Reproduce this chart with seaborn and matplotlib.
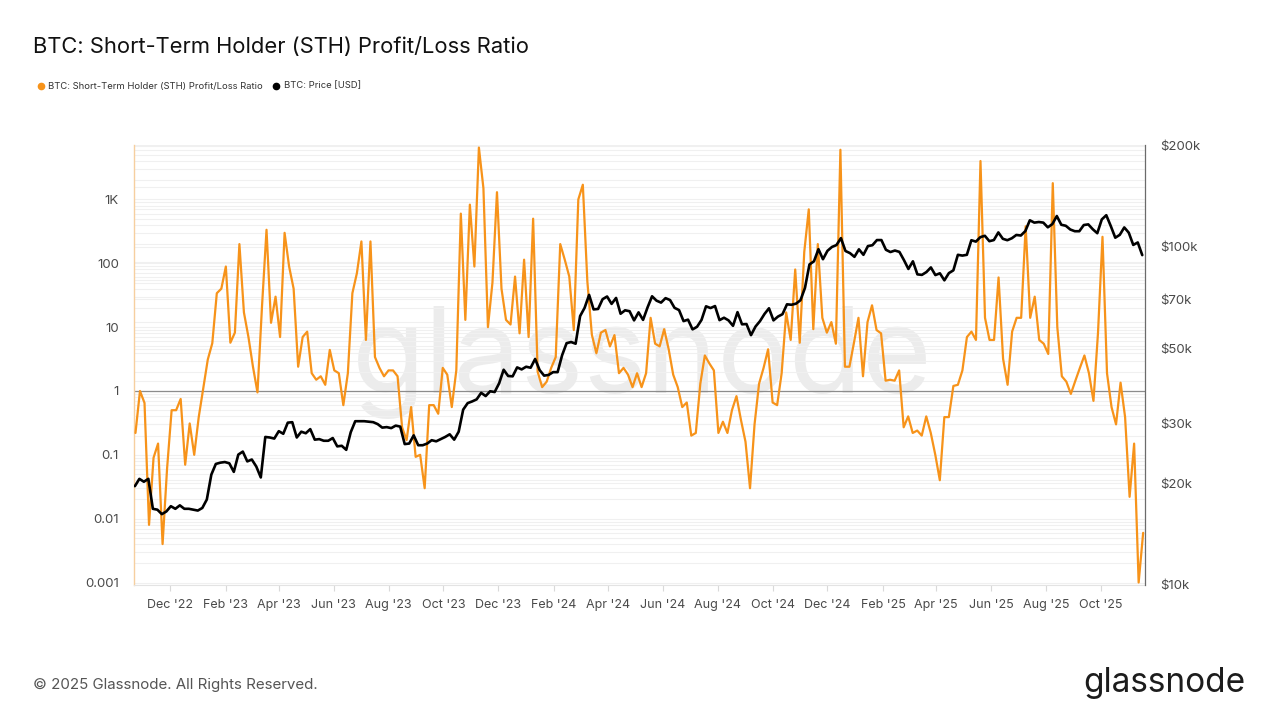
import numpy as np
import pandas as pd
import matplotlib
matplotlib.use("Agg")
import matplotlib.pyplot as plt
import matplotlib.dates as mdates
from matplotlib.ticker import LogLocator, NullFormatter, NullLocator
from matplotlib.lines import Line2D
import seaborn as sns

# ---------------- data ----------------
sth_start = "2022-10-23 16:00"
sth_end = "2025-11-17"
sth_ratio = [
    0.22, 1.0, 0.65, 0.008, 0.09, 0.15, 0.004, 0.062, 0.5, 0.5,
    0.75, 0.07, 0.31, 0.1, 0.39, 1.1, 3.1, 5.6, 34, 40,
    89, 5.7, 8.2, 200, 17, 7, 2.4, 0.95, 21, 335,
    11.7, 30, 7, 300, 89, 40, 2.4, 7, 8.5, 1.9,
    1.5, 1.7, 1.25, 4.4, 2.1, 1.9, 0.6, 1.9, 34, 70,
    220, 6.3, 220, 3.4, 2.3, 1.7, 2.1, 2.1, 1.7, 0.27,
    0.17, 0.56, 0.093, 0.1, 0.03, 0.6, 0.6, 0.44, 2.3, 1.8,
    0.56, 2.1, 600, 13, 830, 89, 6500, 1500, 10, 50,
    1300, 40, 13, 11, 62, 8, 114, 7, 500, 2.0,
    1.15, 1.4, 2.3, 3.4, 200, 114, 62, 9, 1000, 1700,
    52, 7.6, 3.9, 8.2, 9, 5, 7.5, 1.9, 2.3, 1.8,
    1.15, 1.9, 1.15, 1.9, 14, 5.5, 5, 9.3, 4.5, 1.8,
    1.15, 0.56, 0.66, 0.2, 0.22, 1.3, 3.6, 2.7, 2.1, 0.22,
    0.33, 0.22, 0.5, 0.83, 0.35, 0.16, 0.03, 0.3, 1.3, 2.3,
    4.5, 0.66, 0.6, 1.9, 17, 6.3, 80, 5.7, 150, 700,
    9.3, 200, 14, 8.2, 12, 5.5, 6000, 2.4, 2.4, 5.7,
    14, 1.7, 12, 22, 9, 8, 1.45, 1.5, 1.45, 2.1,
    0.27, 0.4, 0.22, 0.24, 0.2, 0.4, 0.22, 0.1, 0.04, 0.39,
    0.39, 1.2, 1.25, 2.1, 7, 8.5, 6.3, 4000, 14, 6.3,
    6.3, 60, 3.2, 1.25, 8.5, 14, 14, 380, 14, 30,
    6.3, 5.5, 3.8, 1800, 10, 1.7, 1.4, 0.9, 1.45, 2.3,
    3.6, 1.9, 0.7, 8, 260, 1.9, 0.56, 0.3, 1.35, 0.39,
    0.022, 0.15, 0.001, 0.006,
]

price_start = "2022-10-23"
price_step = "5D"
btc_price_k = [
    19.6, 20.6, 20.2, 20.6, 16.8, 16.7, 16.2, 16.5, 17.1, 16.8,
    17.2, 16.8, 16.8, 16.7, 16.6, 16.9, 17.9, 21.2, 22.8, 23.0,
    23.1, 22.9, 21.6, 24.3, 24.8, 23.2, 23.5, 22.4, 20.8, 27.4,
    27.3, 27.1, 28.5, 28.0, 30.2, 30.3, 27.3, 28.4, 28.1, 28.9,
    26.9, 27.0, 26.7, 26.7, 27.2, 25.7, 25.8, 25.1, 28.3, 30.5,
    30.5, 30.5, 30.4, 30.3, 29.9, 29.2, 29.3, 29.1, 29.6, 29.4,
    26.1, 26.2, 27.7, 25.9, 25.9, 26.2, 26.8, 26.6, 27.0, 27.4,
    27.9, 26.9, 28.4, 33.0, 34.5, 34.9, 35.4, 37.0, 36.2, 37.4,
    37.2, 39.5, 43.3, 41.5, 41.4, 44.0, 43.4, 44.2, 43.9, 46.6,
    43.2, 41.6, 41.8, 42.6, 42.6, 47.8, 51.9, 52.3, 51.7, 62.4,
    66.0, 72.1, 65.3, 65.5, 70.0, 71.3, 67.8, 70.6, 63.4, 64.9,
    64.5, 60.6, 64.0, 60.8, 66.2, 71.4, 69.3, 68.4, 70.5, 69.6,
    66.0, 65.0, 60.3, 60.9, 57.0, 58.0, 60.8, 66.7, 65.9, 66.8,
    60.7, 61.7, 60.6, 58.4, 64.1, 59.0, 59.1, 54.8, 58.1, 60.3,
    63.3, 65.8, 60.6, 62.2, 63.2, 67.6, 67.4, 67.9, 69.5, 75.6,
    88.7, 90.6, 98.4, 91.9, 97.3, 99.9, 101.2, 106.1, 97.2, 95.8,
    93.4, 98.3, 94.7, 100.5, 101.1, 104.7, 104.7, 98.0, 96.5, 97.5,
    96.6, 91.4, 86.0, 90.6, 82.9, 82.6, 84.2, 86.9, 82.5, 83.5,
    79.6, 83.6, 85.2, 94.7, 94.2, 94.7, 104.6, 103.6, 106.8, 107.8,
    103.9, 104.7, 110.3, 105.6, 104.6, 106.0, 108.4, 108.0, 111.3, 119.8,
    117.9, 118.4, 117.9, 114.2, 116.7, 123.3, 116.2, 115.4, 112.5, 111.2,
    111.2, 116.0, 116.5, 112.7, 109.7, 120.5, 124.0, 115.2, 106.4, 108.5,
    114.1, 110.1, 101.3, 103.0, 94.5,
]

left_ticks = [0.001, 0.01, 0.1, 1, 10, 100, 1000]
left_labels = ["0.001", "0.01", "0.1", "1", "10", "100", "1K"]
right_ticks = [10000, 20000, 30000, 50000, 70000, 100000, 200000]
right_labels = ["$10k", "$20k", "$30k", "$50k", "$70k", "$100k", "$200k"]

title = "BTC: Short-Term Holder (STH) Profit/Loss Ratio"
legend_sth = "BTC: Short-Term Holder (STH) Profit/Loss Ratio"
legend_price = "BTC: Price [USD]"
footer = "\u00a9 2025 Glassnode. All Rights Reserved."

# ---------------- style ----------------
sns.set_theme(style="white")
plt.rcParams["font.family"] = ["Inter", "DejaVu Sans"]

ORANGE = "#F7931A"
TICKC = "#4a4a4a"
GRIDC = "#f0f0f0"

df_sth = pd.DataFrame({
    "date": pd.date_range(sth_start, sth_end, periods=len(sth_ratio)),
    "ratio": sth_ratio,
})
df_px = pd.DataFrame({
    "date": pd.date_range(price_start, periods=len(btc_price_k), freq=price_step),
    "price": np.array(btc_price_k) * 1000.0,
})

fig = plt.figure(figsize=(12.8, 7.2), dpi=100)
ax = fig.add_axes([0.1049, 0.1875, 0.7896, 0.6111])
ax2 = ax.twinx()

ax.set_yscale("log")
ax2.set_yscale("log")
left_lo, left_hi = 10 ** (-3.039), 10 ** 3.853
right_lo, right_hi = 1e4, 2e5
ax.set_ylim(left_lo, left_hi)
ax2.set_ylim(right_lo, right_hi)

# watermark
ax.text(0.503, 0.437, "glassnode", transform=ax.transAxes, ha="center",
        va="baseline", fontsize=86, color="#ececec", zorder=0.5)

# gridlines (left minor/major)
ax.yaxis.set_minor_locator(LogLocator(base=10, subs=np.arange(2, 10)))
ax.yaxis.set_minor_formatter(NullFormatter())
ax.grid(which="both", axis="y", color=GRIDC, linewidth=0.8, zorder=0)
ax.grid(which="both", axis="x", visible=False)
# gridlines belonging to the right (price) scale, drawn underneath the data
ll, lh = np.log10(left_lo), np.log10(left_hi)
rl, rh = np.log10(right_lo), np.log10(right_hi)
for v in list(range(10000, 100001, 10000)) + [150000, 200000]:
    frac = (np.log10(v) - rl) / (rh - rl)
    ax.axhline(10 ** (ll + frac * (lh - ll)), color=GRIDC, linewidth=0.8, zorder=0.4)

ax.axhline(1, color="#8c8c8c", linewidth=0.9, zorder=1)

sns.lineplot(data=df_sth, x="date", y="ratio", ax=ax, color=ORANGE,
             linewidth=1.6, estimator=None, zorder=3)
sns.lineplot(data=df_px, x="date", y="price", ax=ax2, color="black",
             linewidth=1.9, estimator=None, zorder=3)

ax.set_xlim(pd.Timestamp("2022-10-22 08:00"), pd.Timestamp("2025-11-19"))
ax.xaxis.set_major_locator(mdates.MonthLocator(bymonth=[2, 4, 6, 8, 10, 12]))
ax.xaxis.set_major_formatter(mdates.DateFormatter("%b '%y"))

ax.set_yticks(left_ticks, left_labels)
ax.yaxis.set_minor_formatter(NullFormatter())
ax2.set_yticks(right_ticks, right_labels)
ax2.yaxis.set_minor_locator(NullLocator())
ax2.yaxis.set_minor_formatter(NullFormatter())
ax2.grid(False)

ax.tick_params(axis="x", which="major", length=4, width=0.8, color="#d9d9d9",
               labelsize=9, labelcolor=TICKC, pad=6, direction="out", bottom=True)
ax.tick_params(axis="y", which="both", length=0, labelsize=9.5, labelcolor=TICKC, pad=11)
ax2.tick_params(axis="y", which="both", length=0, labelsize=9.5, labelcolor=TICKC, pad=11)

for a in (ax, ax2):
    a.set_xlabel("")
    a.set_ylabel("")
    a.spines["top"].set_visible(False)
ax.spines["right"].set_visible(False)
ax.spines["left"].set_color("#f6cf9f")
ax.spines["left"].set_linewidth(1.0)
ax.spines["bottom"].set_color("#e3e3e3")
ax.spines["bottom"].set_linewidth(0.8)
ax2.spines["left"].set_visible(False)
ax2.spines["bottom"].set_visible(False)
ax2.spines["right"].set_color("#6b6b6b")
ax2.spines["right"].set_linewidth(0.9)
if ax.get_legend():
    ax.get_legend().remove()
if ax2.get_legend():
    ax2.get_legend().remove()

# title, legend, footer
fig.text(0.0258, 1 - 52.5 / 720, title, fontsize=15.8, color="#111111", va="baseline")
fig.add_artist(Line2D([41 / 1280], [1 - 86 / 720], marker="o", markersize=4.5,
                      color=ORANGE, transform=fig.transFigure))
fig.text(48 / 1280, 1 - 86 / 720, legend_sth, fontsize=6.8, color="#333333", va="center")
fig.add_artist(Line2D([276 / 1280], [1 - 86 / 720], marker="o", markersize=4.5,
                      color="black", transform=fig.transFigure))
fig.text(284 / 1280, 1 - 86 / 720, legend_price, fontsize=6.8, color="#333333", va="center")

fig.text(0.0258, 1 - 689 / 720, footer, fontsize=10.9, color="#555555", va="baseline")
fig.text(1245 / 1280, 1 - 692 / 720, "glassnode", fontsize=24, color="#1c1c1c",
         ha="right", va="baseline")

fig.savefig("out.png", dpi=100)
